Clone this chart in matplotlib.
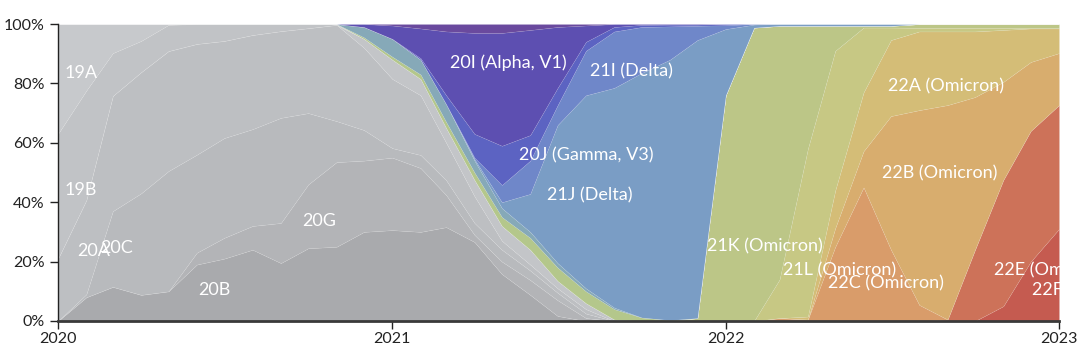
import matplotlib
matplotlib.use("Agg")
import matplotlib.pyplot as plt
import matplotlib.dates as mdates
import numpy as np
import pandas as pd

plt.rcParams['font.family'] = ['Lato', 'DejaVu Sans']

# monthly clade frequencies (%), Jan 2020 .. Jan 2023
months = pd.date_range("2020-01-01", "2023-01-01", freq="MS")

f_22F = [0] * 34 + [5, 20, 31]
f_22E = [0] * 32 + [0.5, 24, 42.5, 44, 41.7]
f_22C = [0] * 26 + [1, 0.5, 25, 45, 24, 5.4, 0, 0, 0, 0, 0]
f_22B = [0] * 28 + [6.3, 12.2, 45, 65.6, 72.2, 51.4, 33, 23.2, 17.5]
f_22A = [0] * 27 + [1, 12.7, 19.8, 25.6, 26.5, 24.8, 22.1, 17.5, 11.3, 8.3]
f_21L = [0] * 26 + [13, 56.5, 47, 21.8, 4.2, 1.2, 1.2, 1.2, 0.7, 0.2, 0.2]
f_21K = [0] * 23 + [1, 76, 98.8, 85.4, 41.4, 8.4, 0.6, 0.6, 1.3, 1.3, 1.3, 1.3, 1.3, 1.3]
f_20B = [0, 8, 11.5, 8.8, 10, 19, 21, 24, 19.5, 24.5, 25, 30, 30.6, 30, 31.6,
         26.6, 15.8, 8.8, 1.7] + [0] * 18
f_20G = [0, 0, 0, 0, 0, 4, 7, 8, 13.5, 21.5, 28.5, 24, 24.4, 21.5, 10.8,
         2.4, 4.2, 5, 5.3, 1] + [0] * 17
f_20C = [0, 1, 25.5, 34.2, 40.5, 33, 33.6, 32.6, 35.4, 24, 13.8, 10.3, 3.2, 4.4, 5,
         4, 4, 3.2, 2.5, 1.5] + [0] * 17
f_20A = [21, 31.7, 38.8, 40.8, 40.4, 37.3, 32.7, 31.7, 29.2, 28.6, 32.4, 27.7, 23.3,
         20.1, 12.6, 9, 3, 2, 1.5, 1.5] + [0] * 17
f_20E = [0] * 11 + [3, 6.5, 5.5, 5, 5.5, 5, 5, 2.5, 2, 0.5] + [0] * 16
f_19B = [42, 36.9, 14.4, 10.5, 8.8, 6.7, 5.7, 3.7, 2.4, 1.4, 0.3] + [0] * 26
f_19A = [37, 22.4, 9.8, 5.7, 0.3] + [0] * 32
f_21A = [0] * 11 + [0.5, 1, 1.5, 2, 2.5, 3, 4, 4.5, 4, 3.5, 1.2, 0.3] + [0] * 14
f_20H = [0] * 11 + [3.5, 6, 5, 6, 4, 3, 2, 1.5, 1, 0.5] + [0] * 16
f_21J = [0] * 15 + [0.5, 2, 12.8, 46.5, 65, 74, 82.3, 87.7, 93.6, 22.3, 1.0,
                    0.6, 0.6, 0.6, 0.6, 0.6] + [0] * 6
f_21I = [0] * 15 + [0.5, 5.8, 11.2, 6.7, 15, 19, 15.5, 11.2, 4.8, 1.3, 0.2] + [0] * 11
f_20J = [0] * 13 + [0.5, 3, 8, 13.2, 8.6, 5.8, 3, 1.5, 0.7, 0.6, 0.4, 0.4] + [0] * 12
f_20I = [0] * 11 + [1, 4.5, 10, 21.5, 34, 38, 35.4, 20.5, 5.5, 1, 0.3, 0.2, 0.2] + [0] * 13
f_top = [0] * 12 + [0.5, 1.5, 2.5, 3, 3, 2, 1, 0.5] + [0] * 17

# bottom -> top
layers = [f_22F, f_22E, f_22C, f_22B, f_22A, f_21L, f_21K,
          f_20B, f_20G, f_20C, f_20A, f_20E, f_19B, f_19A,
          f_21A, f_20H, f_21J, f_21I, f_20J, f_20I, f_top]
colors = ['#c55b50', '#cd7259', '#d99c6a', '#d8ad6e', '#d4bd77', '#c7c884', '#bcc687',
          '#a9aaad', '#b3b4b7', '#b8babd', '#bdbfc2', '#c3c5c8', '#c1c3c6', '#c7c9cc',
          '#b4c78b', '#86a9b8', '#7a9dc5', '#6f87c9', '#5c63c2', '#5d4fb1', '#6a4a9e']

labels = [("19A", "2020-01-08", 83.5), ("19B", "2020-01-08", 44.1),
          ("20A", "2020-01-22", 23.6), ("20C", "2020-02-16", 24.7),
          ("20B", "2020-06-02", 10.4), ("20G", "2020-09-24", 33.8),
          ("20I (Alpha, V1)", "2021-03-05", 86.9), ("21I (Delta)", "2021-08-05", 84.0),
          ("20J (Gamma, V3)", "2021-05-20", 55.6), ("21J (Delta)", "2021-06-19", 42.4),
          ("21K (Omicron)", "2021-12-12", 25.1), ("21L (Omicron)", "2022-03-05", 17.2),
          ("22C (Omicron)", "2022-04-23", 12.6), ("22A (Omicron)", "2022-06-28", 79.0),
          ("22B (Omicron)", "2022-06-21", 49.7), ("22E (Omicron)", "2022-10-22", 17.2),
          ("22F (Omicron)", "2022-12-02", 10.4)]

fig = plt.figure(figsize=(10.8, 3.54), dpi=100)
ax = fig.add_axes([58 / 1080, 1 - 321 / 354, 1001 / 1080, 297 / 354])

ax.stackplot(months, *layers, colors=colors, linewidth=0.4,
             edgecolor=(1, 1, 1, 0.12))

for txt, d, yv in labels:
    ax.text(pd.Timestamp(d), yv, txt, color='white', fontsize=13,
            ha='left', va='center')

ax.set_xlim(pd.Timestamp("2020-01-01"), pd.Timestamp("2023-01-01"))
ax.set_ylim(0, 100)
ax.xaxis.set_major_locator(mdates.YearLocator())
ax.xaxis.set_major_formatter(mdates.DateFormatter("%Y"))
ax.set_yticks([0, 20, 40, 60, 80, 100])
ax.set_yticklabels([f"{v}%" for v in [0, 20, 40, 60, 80, 100]])

for s in ['top', 'right']:
    ax.spines[s].set_visible(False)
ax.spines['left'].set_color('#222222')
ax.spines['left'].set_linewidth(1)
ax.spines['bottom'].set_color('#3a3a3a')
ax.spines['bottom'].set_linewidth(2)
ax.tick_params(axis='both', labelsize=11.5, colors='#222222', length=6, width=1)
ax.tick_params(axis='x', pad=2)

fig.savefig("out.png", dpi=100)
